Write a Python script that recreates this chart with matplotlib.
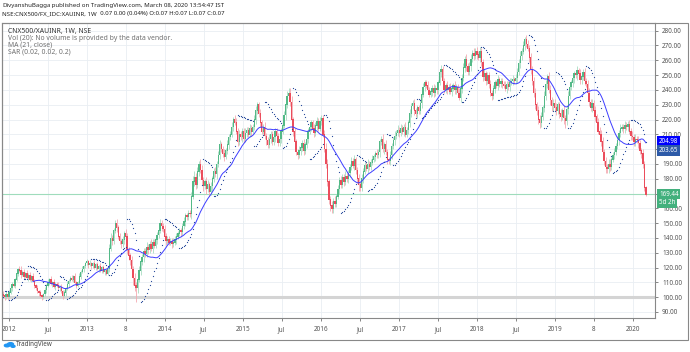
import numpy as np
import pandas as pd
import matplotlib
matplotlib.use("Agg")
from matplotlib import pyplot as plt
from matplotlib.patches import Rectangle, Circle
import matplotlib.transforms as mtrans

plt.rcParams['font.family'] = ['Noto Sans', 'DejaVu Sans']

# weekly candles, first week 2011-12-05
first_week = '2011-12-05'
first_open = 102
closes = [
    101, 100, 102, 100, 103, 106, 109, 108,
    112, 116, 119, 118, 115, 117, 114, 116,
    113, 115, 112, 114, 111, 108, 106, 104,
    103, 101, 100, 102, 105, 108, 110, 112,
    109, 110, 107, 109, 108, 106, 107, 104,
    101, 103, 106, 109, 111, 113, 112, 114,
    110, 108, 110, 114, 117, 119, 121, 123,
    124, 122, 123, 121, 123, 120, 122, 119,
    121, 118, 120, 117, 118, 116, 119, 133,
    140, 138, 145, 150, 147, 141, 138, 136,
    139, 143, 141, 132, 128, 125, 119, 113,
    108, 106, 112, 118, 124, 127, 131, 129,
    134, 132, 136, 133, 137, 135, 139, 142,
    145, 150, 148, 146, 141, 138, 139, 137,
    138, 136, 137, 139, 141, 143, 145, 144,
    148, 151, 155, 154, 157, 156, 168, 178,
    181, 176, 185, 190, 186, 179, 175, 178,
    173, 176, 171, 175, 180, 185, 183, 190,
    196, 203, 200, 197, 195, 199, 203, 208,
    210, 215, 220, 218, 212, 205, 210, 208,
    212, 207, 211, 213, 210, 214, 212, 215,
    220, 226, 230, 224, 218, 212, 215, 209,
    206, 203, 207, 210, 205, 208, 212, 209,
    204, 207, 212, 216, 223, 230, 236, 238,
    232, 220, 212, 205, 198, 196, 199, 201,
    204, 199, 203, 207, 212, 215, 218, 214,
    211, 216, 219, 214, 219, 221, 210, 200,
    190, 178, 166, 162, 160, 165, 163, 168,
    173, 179, 176, 181, 178, 182, 180, 184,
    188, 192, 189, 193, 186, 180, 176, 174,
    180, 185, 189, 187, 190, 188, 191, 193,
    195, 197, 196, 198, 205, 207, 200, 203,
    198, 193, 192, 196, 202, 206, 209, 211,
    213, 211, 214, 212, 215, 210, 213, 218,
    224, 229, 231, 226, 224, 228, 226, 231,
    237, 242, 245, 243, 240, 237, 239, 241,
    238, 241, 240, 245, 252, 254, 246, 240,
    243, 240, 242, 239, 241, 243, 240, 242,
    238, 235, 241, 248, 255, 261, 256, 252,
    256, 261, 265, 263, 266, 264, 262, 266,
    259, 249, 251, 246, 250, 244, 238, 236,
    241, 245, 243, 247, 244, 246, 244, 243,
    241, 244, 242, 245, 246, 247, 246, 248,
    252, 258, 263, 266, 270, 274, 271, 268,
    262, 254, 246, 238, 230, 226, 220, 218,
    222, 228, 236, 244, 249, 240, 233, 229,
    231, 228, 226, 230, 224, 222, 226, 221,
    219, 227, 236, 242, 245, 248, 251, 250,
    253, 251, 247, 249, 252, 246, 244, 238,
    232, 228, 231, 226, 222, 218, 212, 210,
    205, 198, 192, 188, 187, 190, 188, 193,
    196, 198, 202, 206, 211, 214, 215, 214,
    216, 215, 217, 212, 209, 208, 205, 207,
    206, 204, 199, 197, 190, 174, 169.44,
]
# wick lengths above / below the body
upper_wick = [
    2, 1, 2, 1, 2, 2, 1, 2,  1, 2, 1, 2, 3, 1, 2, 1,
    2, 1, 2, 1, 2, 1, 1, 2,  1, 2, 1, 1, 2, 1, 2, 1,
    2, 1, 2, 1, 1, 2, 1, 2,  1, 2, 1, 2, 1, 1, 2, 1,
    2, 1, 1, 2, 1, 2, 1, 1,  2, 1, 2, 1, 1, 2, 1, 2,
    1, 2, 1, 2, 1, 1, 2, 3,  3, 2, 2, 2, 3, 2, 2, 1,
    2, 2, 3, 2, 2, 2, 3, 2,  3, 2, 2, 3, 2, 2, 2, 2,
    3, 2, 2, 3, 2, 2, 3, 2,  4, 3, 2, 2, 3, 2, 2, 2,
    2, 2, 3, 2, 2, 2, 2, 2,  2, 3, 2, 2, 2, 2, 3, 4,
    4, 3, 3, 2, 3, 3, 2, 2,  3, 3, 2, 3, 2, 2, 3, 2,
    3, 3, 2, 2, 3, 2, 3, 2,  2, 3, 2, 3, 3, 2, 3, 2,
    2, 2, 3, 2, 2, 3, 2, 2,  3, 3, 2, 2, 3, 2, 2, 3,
    2, 2, 3, 2, 2, 3, 2, 2,  2, 3, 2, 3, 3, 2, 3, 3,
    3, 4, 2, 2, 2, 2, 3, 2,  2, 3, 2, 3, 2, 2, 2, 2,
    3, 2, 3, 2, 3, 2, 2, 3,  4, 3, 2, 2, 3, 2, 3, 2,
    3, 2, 3, 2, 2, 3, 2, 2,  2, 3, 2, 3, 2, 2, 3, 2,
    3, 2, 2, 2, 3, 2, 2, 3,  2, 2, 3, 2, 2, 2, 3, 2,
    3, 2, 2, 3, 2, 2, 3, 2,  3, 2, 3, 2, 2, 3, 2, 2,
    3, 2, 2, 3, 2, 2, 2, 2,  2, 3, 2, 2, 3, 2, 2, 2,
    3, 2, 2, 2, 2, 3, 2, 2,  2, 3, 2, 3, 3, 2, 3, 2,
    2, 3, 2, 3, 3, 2, 3, 2,  3, 3, 2, 3, 2, 3, 2, 3,
    2, 2, 3, 2, 2, 2, 3, 2,  2, 2, 2, 3, 2, 2, 2, 2,
    3, 2, 2, 3, 2, 3, 2, 3,  3, 3, 3, 2, 3, 2, 3, 3,
    2, 3, 2, 3, 3, 2, 3, 3,  3, 2, 3, 3, 2, 3, 3, 2,
    3, 3, 3, 2, 2, 3, 2, 3,  2, 3, 3, 2, 2, 3, 2, 2,
    3, 2, 3, 3, 2, 3, 2, 3,  3, 2, 3, 2, 3, 2, 3, 3,
    3, 3, 2, 3, 2, 3, 3, 2,  2, 3, 2, 3, 2, 3, 2, 2,
    3, 2, 2, 3, 2, 3, 2, 3,  2, 3, 2, 2, 3, 2, 1,
]
lower_wick = [
    1, 2, 1, 2, 1, 1, 2, 1,  2, 1, 2, 1, 2, 1, 2, 1,
    1, 2, 1, 2, 1, 2, 1, 1,  2, 1, 2, 1, 1, 2, 1, 2,
    1, 2, 1, 2, 1, 1, 2, 1,  2, 1, 2, 1, 2, 1, 1, 2,
    1, 2, 1, 1, 2, 1, 2, 1,  1, 2, 1, 2, 1, 1, 2, 1,
    2, 1, 2, 1, 2, 1, 1, 2,  2, 3, 2, 2, 3, 2, 2, 3,
    2, 3, 2, 3, 3, 3, 4, 5,  4, 9, 3, 2, 3, 2, 3, 2,
    2, 3, 2, 2, 3, 2, 2, 3,  2, 2, 3, 2, 2, 3, 2, 2,
    2, 3, 2, 2, 3, 2, 2, 3,  2, 2, 3, 2, 2, 2, 3, 2,
    3, 3, 2, 3, 2, 3, 3, 2,  3, 2, 3, 2, 3, 2, 2, 3,
    2, 3, 2, 2, 3, 2, 2, 3,  2, 2, 3, 2, 2, 3, 2, 2,
    3, 2, 2, 3, 2, 2, 3, 2,  2, 3, 2, 2, 3, 2, 2, 2,
    3, 2, 2, 3, 2, 2, 3, 2,  2, 2, 3, 2, 2, 3, 2, 2,
    3, 2, 3, 3, 2, 3, 2, 3,  2, 3, 2, 2, 3, 2, 3, 2,
    3, 2, 3, 2, 2, 3, 2, 2,  3, 3, 3, 4, 3, 3, 2, 2,
    2, 3, 2, 2, 3, 2, 2, 3,  3, 2, 2, 3, 3, 3, 4, 2,
    2, 3, 2, 2, 3, 2, 2, 2,  2, 3, 2, 2, 3, 2, 2, 3,
    2, 3, 2, 3, 3, 2, 3, 2,  2, 3, 2, 2, 3, 2, 2, 3,
    3, 2, 2, 3, 2, 3, 2, 2,  3, 2, 3, 2, 3, 2, 2, 3,
    3, 2, 3, 3, 2, 3, 2, 2,  2, 3, 3, 2, 3, 2, 3, 3,
    3, 2, 3, 3, 2, 3, 3, 2,  2, 3, 2, 3, 2, 3, 2, 3,
    3, 3, 2, 3, 2, 3, 2, 3,  2, 3, 2, 3, 2, 2, 3, 2,
    2, 3, 2, 3, 2, 3, 2, 2,  3, 2, 3, 3, 2, 3, 2, 2,
    3, 3, 3, 3, 3, 3, 3, 4,  3, 2, 3, 3, 3, 2, 3, 3,
    3, 2, 3, 2, 3, 3, 2, 4,  5, 3, 3, 2, 2, 3, 3, 2,
    3, 2, 3, 3, 2, 3, 2, 3,  3, 2, 3, 2, 3, 3, 2, 3,
    3, 3, 3, 4, 3, 3, 3, 2,  2, 3, 2, 2, 3, 3, 2, 3,
    3, 2, 3, 2, 3, 2, 3, 3,  2, 3, 2, 3, 3, 2, 1,
]
assert len(closes) == len(upper_wick) == len(lower_wick), (len(closes), len(upper_wick), len(lower_wick))

x_ticks = ['2012-01-01', '2012-07-01', '2013-01-01', '2013-07-01', '2014-01-01',
           '2014-07-01', '2015-01-01', '2015-07-01', '2016-01-01', '2016-07-01',
           '2017-01-01', '2017-07-01', '2018-01-01', '2018-07-01', '2019-01-01',
           '2019-07-01', '2020-01-01']
x_labels = ['2012', 'Jul', '2013', '8', '2014', 'Jul', '2015', 'Jul', '2016', 'Jul',
            '2017', 'Jul', '2018', 'Jul', '2019', '8', '2020']
y_ticks = list(range(90, 281, 10))
y_hidden = [170, 200]   # covered by the last-value labels in the original
last_labels = ['204.98', '203.65', '169.44', '5d 2h']
hline_grey = 100
hline_green = 169.44

header1_bold = 'DivyanshuBagga'
header1_rest = ' published on TradingView.com, March 08, 2020 13:54:47 IST'
header2_bold = 'NSE:CNX500/FX_IDC:XAUINR, 1W'
header2_rest = '  0.07 0.00 (0.04%) O:0.07 H:0.07 L:0.07 C:0.07'
legend_lines = ['CNX500/XAUINR, 1W, NSE',
                'Vol (20): No volume is provided by the data vendor.',
                'MA (21, close)',
                'SAR (0.02, 0.02, 0.2)']

UP = '#53b987'
DOWN = '#eb4d5c'

c = np.array(closes, dtype=float)
o = np.r_[first_open, c[:-1]]
h = np.maximum(o, c) + np.array(upper_wick)
l = np.minimum(o, c) - np.array(lower_wick)
w = np.arange(len(c))

ma = pd.Series(c).rolling(21).mean()


def psar(high, low, start=0.02, inc=0.02, mx=0.2):
    n = len(high)
    out = np.zeros(n)
    up = True
    af = start
    ep = high[0]
    out[0] = low[0]
    for i in range(1, n):
        s = out[i - 1] + af * (ep - out[i - 1])
        if up:
            s = min(s, low[i - 1], low[max(i - 2, 0)])
            if low[i] < s:
                up, s, ep, af = False, ep, low[i], start
            elif high[i] > ep:
                ep, af = high[i], min(af + inc, mx)
        else:
            s = max(s, high[i - 1], high[max(i - 2, 0)])
            if high[i] > s:
                up, s, ep, af = True, ep, high[i], start
            elif low[i] < ep:
                ep, af = low[i], min(af + inc, mx)
        out[i] = s
    return out


sar = psar(h, l)

fig = plt.figure(figsize=(6.9, 3.52), dpi=100)
W, H = 690.0, 352.0
ax = fig.add_axes([2 / W, 34 / H, 653 / W, 295 / H])

t0 = pd.Timestamp(first_week)
tick_pos = [(pd.Timestamp(d) - t0).days / 7 for d in x_ticks]

ax.set_xlim(-0.7, 436.1)
ax.set_ylim(85.9, 285.2)
ax.set_yticks(y_ticks)
ax.set_yticklabels(['' if v in y_hidden else '%.2f' % v for v in y_ticks])
ax.set_xticks(tick_pos)
ax.set_xticklabels(x_labels)
ax.yaxis.tick_right()
ax.tick_params(axis='y', labelsize=4.6, colors='#555555', length=2.5, width=0.5, pad=2.5)
ax.tick_params(axis='x', labelsize=4.6, colors='#555555', length=2, width=0.5, pad=4)
ax.grid(True, color='#e9eef3', lw=0.6)
ax.set_axisbelow(True)
for s in ax.spines.values():
    s.set_color('#888888')
    s.set_linewidth(0.8)

ax.axhline(hline_grey, color='#d4d4d4', lw=2.2, zorder=1)
ax.axhline(hline_green, color='#9fdcbc', lw=0.8, zorder=1)

up = c >= o
wick_col = np.where(up, '#a8dcc2', '#f4a9b1')
ax.vlines(w, l, h, colors=wick_col, lw=0.6, zorder=2)
ax.bar(w, np.abs(c - o) + 0.3, bottom=np.minimum(o, c) - 0.15, width=0.85,
       color=np.where(up, UP, DOWN), lw=0, zorder=3)

ax.plot(w, ma, color='#3d3dff', lw=0.7, zorder=4)
ax.scatter(w, sar, s=0.8, color='#24479a', lw=0, zorder=4)

# last value labels on the price scale
lab_x = 1.006
lab_y = [204.9, 199.2, 169.6, 163.7]
lab_bg = ['#0000ff', '#2d5aa8', '#43b07d', '#43b07d']
tr = mtrans.blended_transform_factory(ax.transAxes, ax.transData)
for txt, yy, bg in zip(last_labels, lab_y, lab_bg):
    ax.text(lab_x, yy, txt, transform=tr, fontsize=4.5, color='white', ha='left', va='center',
            bbox=dict(boxstyle='square,pad=0.3', fc=bg, ec='none'), clip_on=False, zorder=6)

# legend
for i, line in enumerate(legend_lines):
    ax.text(6 / 653, 1 - (8.7 + 6.7 * i) / 295, line, transform=ax.transAxes, fontsize=4.9,
            color='#333333' if i == 0 else '#707070', va='center', ha='left')

# outer frame around chart + scales
fig.add_artist(Rectangle((2 / W, 12 / H), 686 / W, 317 / H, transform=fig.transFigure,
                         fill=False, ec='#888888', lw=0.8))

# header
renderer = fig.canvas.get_renderer()
t = fig.text(2 / W, 1 - 5 / H, header1_bold, fontsize=4.4, fontweight='bold', color='#222222', va='center')
bb = t.get_window_extent(renderer)
fig.text(bb.x1 / W, 1 - 5 / H, header1_rest, fontsize=4.4, color='#222222', va='center')
t = fig.text(2 / W, 1 - 14 / H, header2_bold, fontsize=4.4, fontweight='bold', color='#222222', va='center')
bb = t.get_window_extent(renderer)
fig.text(bb.x1 / W, 1 - 14 / H, header2_rest, fontsize=4.4, color='#222222', va='center')

# TradingView logo
for cx, cy, r in [(7, 345.5, 2.6), (10.5, 344.2, 3.0), (13, 346.3, 2.0)]:
    fig.add_artist(Circle((cx / W, 1 - cy / H), r / W, transform=fig.transFigure, color='#2196f3'))
fig.text(15.5 / W, 1 - 345 / H, 'TradingView', fontsize=4.5, color='#444444', va='center')

fig.savefig('out.png', dpi=100)
